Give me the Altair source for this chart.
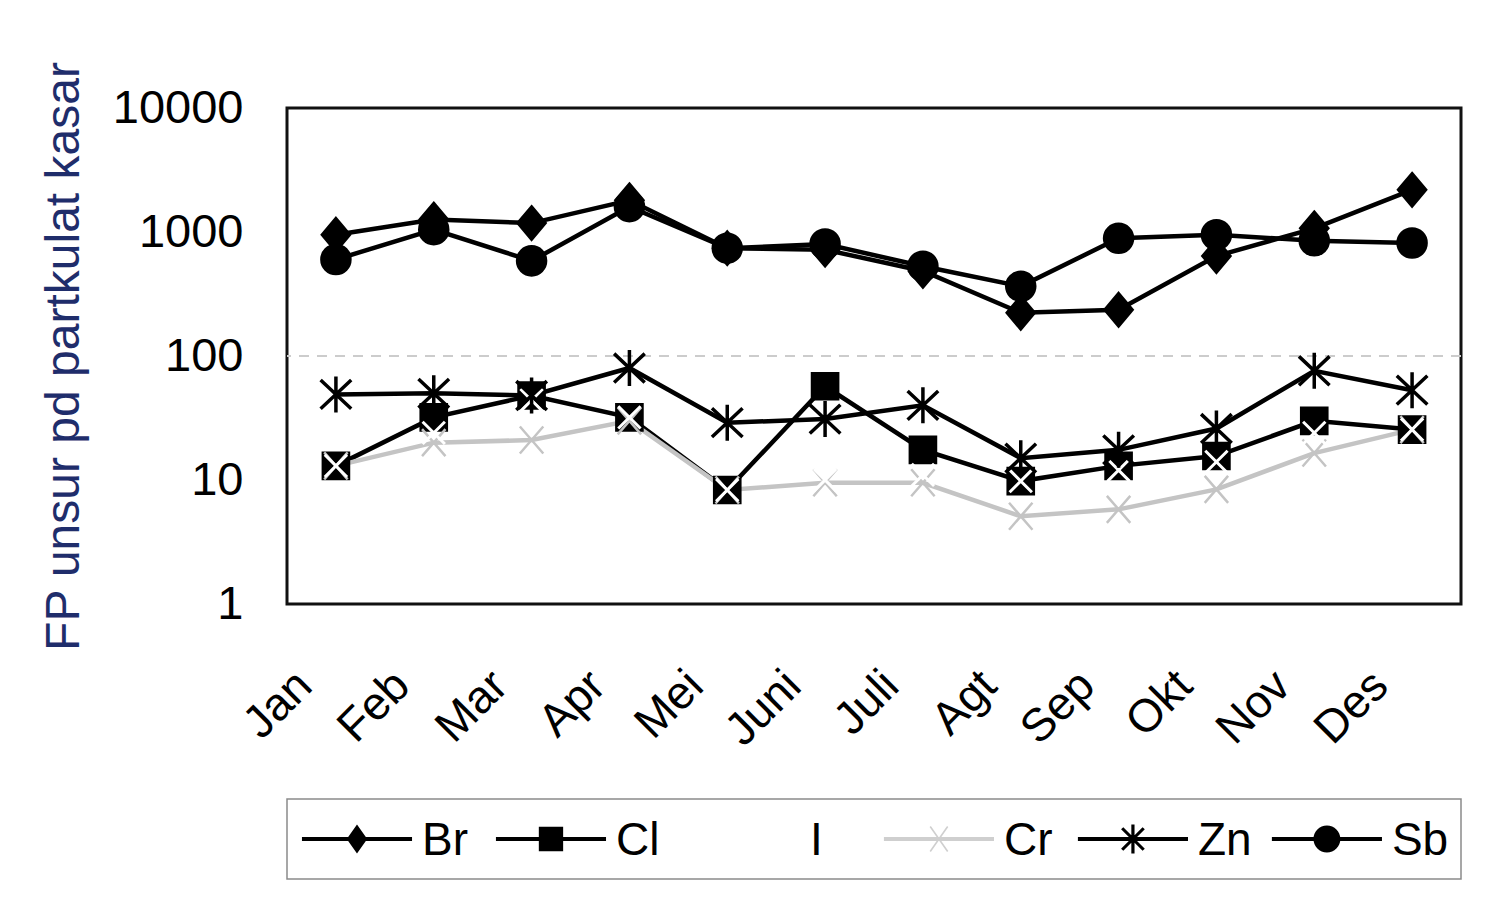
import altair as alt
import pandas as pd
import numpy as np

# ---------------- data ----------------
months = ["Jan", "Feb", "Mar", "Apr", "Mei", "Juni", "Juli", "Agt", "Sep", "Okt", "Nov", "Des"]
series_names = ["Br", "Cl", "I", "Cr", "Zn", "Sb"]

br = [950, 1260, 1180, 1800, 740, 720, 485, 223, 236, 640, 1070, 2190]
cl = [13, 32, 48, 32, 8.3, 57, 17.5, 9.8, 13, 15.6, 30, 25.5]
i_vals = [13, 24, 44, 32, 8.3, 10, 11, 9.8, 12, 14, 24, 25.5]
cr = [13, 20, 21, 30, 8.3, 9.5, 9.5, 5.1, 5.8, 8.4, 16.5, 25.5]
zn = [49, 50, 48, 80, 29, 31, 40, 15, 17.5, 26, 76, 53]
sb = [600, 1045, 585, 1600, 740, 800, 530, 365, 890, 950, 850, 815]

y_ticks = [1, 10, 100, 1000, 10000]
grid_values = [100]

values_by_series = {"Br": br, "Cl": cl, "I": i_vals, "Cr": cr, "Zn": zn, "Sb": sb}
rows = []
for si, s in enumerate(series_names):
    for m, v in zip(months, values_by_series[s]):
        rows.append({"month": m, "series": s, "value": v, "sidx": si})
df = pd.DataFrame(rows)
legend_df = pd.DataFrame({"series": series_names, "row": [""] * len(series_names)})

# ---------------- styles ----------------
FONT = "Liberation Sans"
colors = {"Br": "#000000", "Cl": "#000000", "I": "#ffffff", "Cr": "#c4c4c4", "Zn": "#000000", "Sb": "#000000"}
stroke_colors = [colors[s] for s in series_names]
legend_colors = ["#000000", "#000000", "#ffffff", "#cfcfcf", "#000000", "#000000"]
line_widths = [4.5, 4.5, 0, 2, 4.5, 4.5]


def fmt(v):
    return f"{v:.3f}".rstrip("0").rstrip(".")


def poly(points):
    pts = list(points)
    area = 0.0
    for k in range(len(pts)):
        x1, y1 = pts[k]
        x2, y2 = pts[(k + 1) % len(pts)]
        area += x1 * y2 - x2 * y1
    if area < 0:
        pts = pts[::-1]
    return "M" + "L".join(f"{fmt(x)},{fmt(y)}" for x, y in pts) + "Z"


def rot_rect(length, thick, angle):
    a = np.deg2rad(angle)
    ux, uy = np.cos(a), np.sin(a)
    vx, vy = -uy, ux
    hl, ht = length / 2, thick / 2
    return poly([
        (-hl * ux - ht * vx, -hl * uy - ht * vy),
        (hl * ux - ht * vx, hl * uy - ht * vy),
        (hl * ux + ht * vx, hl * uy + ht * vy),
        (-hl * ux + ht * vx, -hl * uy + ht * vy),
    ])


def circle(r):
    return f"M{fmt(r)},0A{fmt(r)},{fmt(r)},0,1,1,{fmt(-r)},0A{fmt(r)},{fmt(r)},0,1,1,{fmt(r)},0Z"


# plot markers (unit = 18 px)
marker_paths = {
    "Br": "M0,-0.95L0.8,0L0,0.95L-0.8,0Z",
    "Cl": "M-0.74,-0.74L0.74,-0.74L0.74,0.74L-0.74,0.74Z",
    "I": "M-0.62,-0.62L0.62,0.62M-0.62,0.62L0.62,-0.62",
    "Cr": "M-0.65,-0.75L0.65,0.75M-0.65,0.75L0.65,-0.75",
    "Zn": "M-0.85,-0.8L0.85,0.8M-0.85,0.8L0.85,-0.8M0,-1L0,1",
    "Sb": circle(0.82),
}
marker_stroke_w = {"Br": 2, "Cl": 2, "I": 3, "Cr": 2.5, "Zn": 3.5, "Sb": 2}
draw_order = ["Br", "Cl", "Cr", "I", "Zn", "Sb"]

# legend symbols (unit = 32 px): line segment + marker, all filled polygons
LH = 1.72  # half length of the legend line, in symbol units
line_seg = poly([(-LH, -0.06), (LH, -0.06), (LH, 0.06), (-LH, 0.06)])
legend_paths = [
    line_seg + poly([(0, -0.45), (0.32, 0), (0, 0.45), (-0.32, 0)]),
    line_seg + poly([(-0.38, -0.38), (0.38, -0.38), (0.38, 0.38), (-0.38, 0.38)]),
    line_seg,
    line_seg + rot_rect(0.95, 0.05, 55) + rot_rect(0.95, 0.05, -55),
    line_seg + rot_rect(0.95, 0.1, 45) + rot_rect(0.95, 0.1, -45) + rot_rect(0.9, 0.1, 90),
    line_seg + circle(0.42),
]

# ---------------- main chart ----------------
x_enc = alt.X(
    "month:N",
    sort=months,
    axis=alt.Axis(
        title=None, labelAngle=-45, labelFontSize=46, labelFont=FONT, labelColor="#000000",
        labelAlign="right", labelBaseline="middle", labelPadding=74, labelOffset=-32,
        ticks=False, domain=False, grid=False,
    ),
)
y_scale = alt.Scale(type="log", domain=[1, 10000], nice=False)
y_axis = alt.Axis(
    values=y_ticks, format="d", title="FP unsur pd partkulat kasar",
    titleFontSize=48, titleFont=FONT, titleFontWeight="normal", titleColor="#1f2d6b",
    titlePadding=24, labelFontSize=47, labelFont=FONT, labelColor="#000000",
    labelPadding=44, ticks=False, domain=False, grid=False,
)
y_enc = alt.Y("value:Q", scale=y_scale, axis=y_axis, title="FP unsur pd partkulat kasar")

base = alt.Chart(df).encode(x=x_enc, y=y_enc)

lines = base.transform_filter("datum.series != 'I'").mark_line().encode(
    stroke=alt.Stroke("series:N", scale=alt.Scale(domain=series_names, range=stroke_colors), legend=None),
    strokeWidth=alt.StrokeWidth("series:N", scale=alt.Scale(domain=series_names, range=line_widths), legend=None),
    detail="series:N",
)

grid = alt.Chart(pd.DataFrame({"g": grid_values})).mark_rule(
    color="#cccccc", strokeWidth=2, strokeDash=[10, 8]
).encode(y=alt.Y("g:Q", scale=y_scale, axis=y_axis, title="FP unsur pd partkulat kasar"))

point_layers = []
for s in draw_order:
    col = colors[s]
    point_layers.append(
        base.transform_filter(f"datum.series == '{s}'").mark_point(
            shape=marker_paths[s], filled=True, fill=col, stroke=col,
            strokeWidth=marker_stroke_w[s], opacity=1, size=1296,
        )
    )

main = alt.layer(lines, grid, *point_layers).properties(
    width=1174, height=496, view=alt.ViewBackground(stroke="#111111", strokeWidth=3)
)

# ---------------- legend (its own small chart, boxed) ----------------
leg_x = alt.X("series:N", sort=series_names, axis=None,
              scale=alt.Scale(domain=series_names, padding=0.526, align=0.343))
leg_y = alt.Y("row:N", axis=None)
leg_base = alt.Chart(legend_df).encode(x=leg_x, y=leg_y)
leg_symbols = leg_base.mark_point(filled=True, opacity=1, size=4096, strokeWidth=0).encode(
    shape=alt.Shape("series:N", scale=alt.Scale(domain=series_names, range=legend_paths), legend=None),
    fill=alt.Fill("series:N", scale=alt.Scale(domain=series_names, range=legend_colors), legend=None),
)
leg_labels = leg_base.mark_text(
    align="left", baseline="middle", dx=65, dy=2, fontSize=46, font=FONT, color="#000000"
).encode(text="series:N")
legend_chart = alt.layer(leg_symbols, leg_labels).properties(
    width=1174, height=80, view=alt.ViewBackground(stroke="#8a8a8a", strokeWidth=1.5)
)

chart = alt.vconcat(main, legend_chart, spacing=42).properties(
    padding={"left": 30, "top": 51, "right": 10, "bottom": 0}, background="white"
)

chart.save("out.html", embed_options={"renderer": "svg", "actions": False})
